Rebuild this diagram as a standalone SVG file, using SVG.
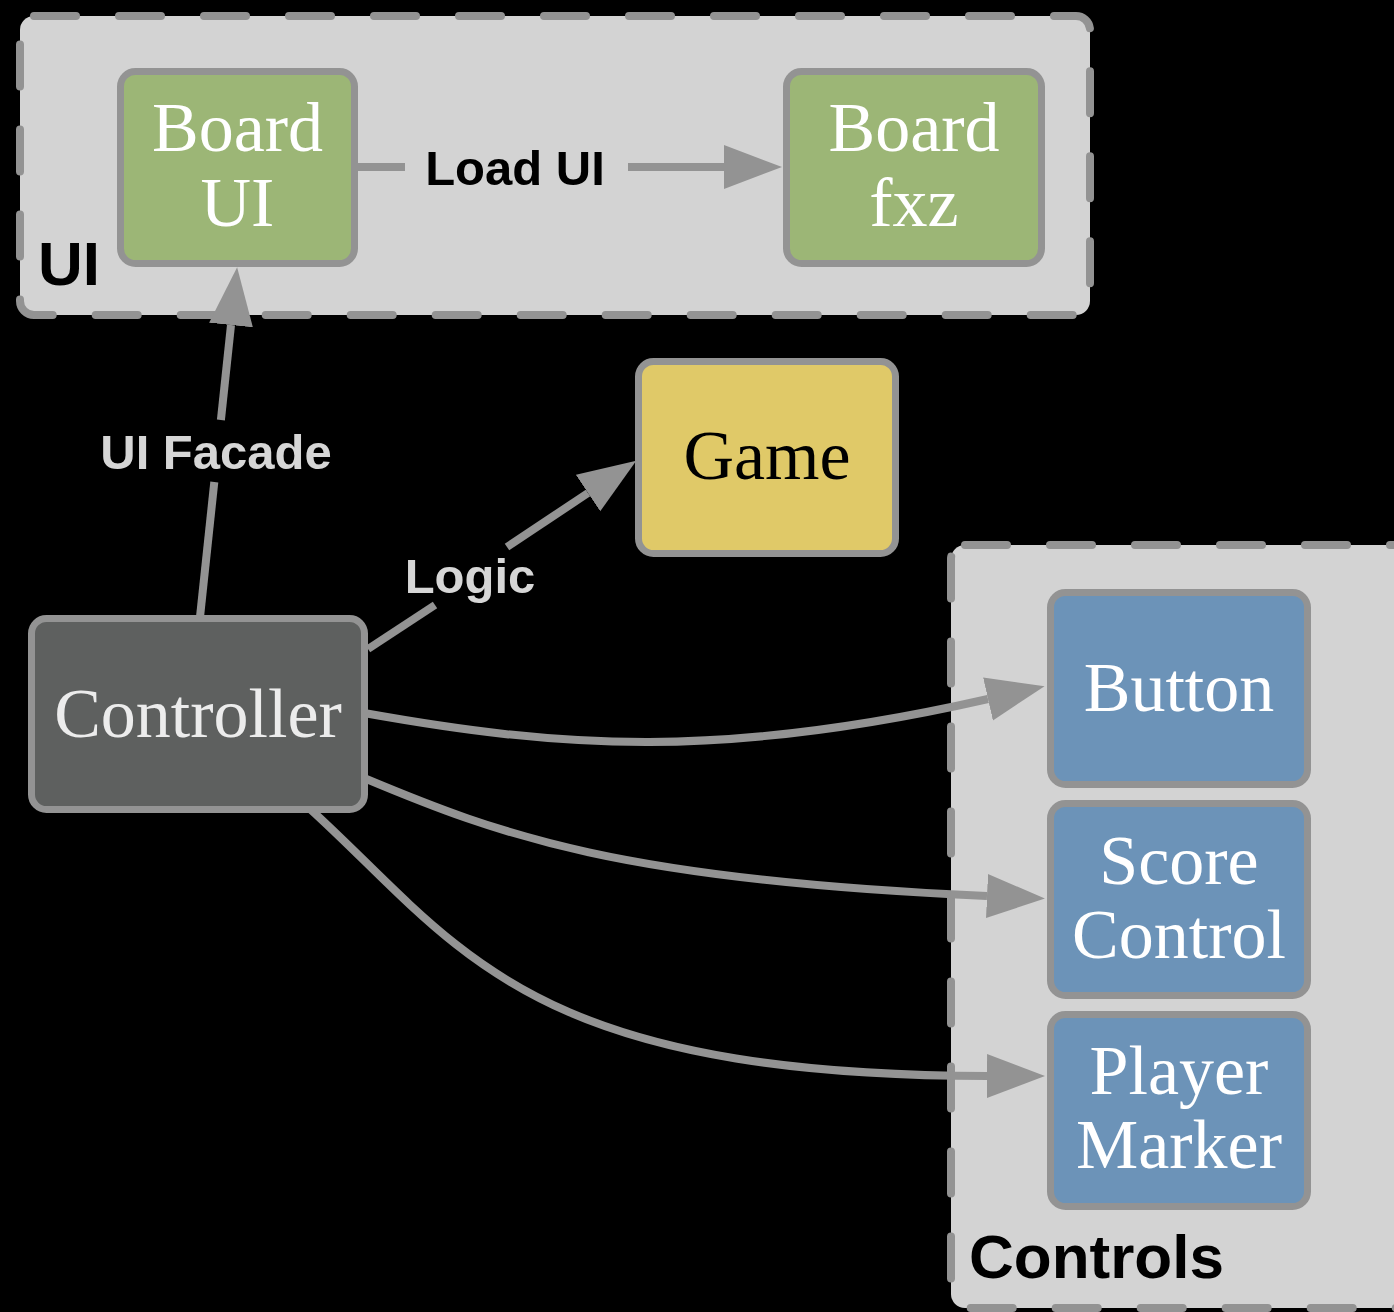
<svg xmlns="http://www.w3.org/2000/svg" width="1394" height="1312" viewBox="0 0 1394 1312">
  <defs>
    <style>
      .group { fill: #d3d3d3; stroke: #939393; stroke-width: 8; stroke-dasharray: 42 43; stroke-linecap: round; }
      .group-label { font-family: "Liberation Sans", Arial, sans-serif; font-weight: bold; font-size: 62px; fill: #000; }
      .node rect { stroke: #939393; stroke-width: 7; }
      .node text { font-family: "Liberation Serif", "Times New Roman", serif; font-size: 70px; text-anchor: middle; }
      .green rect { fill: #9cb676; }
      .green text { fill: #ffffff; }
      .blue rect { fill: #6c93b8; }
      .blue text { fill: #ffffff; }
      .yellow rect { fill: #e0c968; }
      .yellow text { fill: #000000; }
      .dark rect { fill: #5e605f; }
      .dark text { fill: #ececec; }
      .edge { fill: none; stroke: #939393; stroke-width: 8; }
      .edge-label { font-family: "Liberation Sans", Arial, sans-serif; font-weight: bold; font-size: 49px; text-anchor: middle; }
    </style>
    <marker id="arrow" markerUnits="userSpaceOnUse" markerWidth="60" markerHeight="46" viewBox="0 -23 60 46" refX="0" refY="0" orient="auto">
      <path d="M0,-22 L58,0 L0,22 Z" fill="#939393"/>
    </marker>
  </defs>

  <rect width="1394" height="1312" fill="#000"/>

  <!-- clusters -->
  <g id="cluster-ui">
    <rect class="group" x="20" y="16" width="1070" height="299" rx="14"/>
    <text class="group-label" x="38" y="285">UI</text>
  </g>
  <g id="cluster-controls">
    <rect class="group" x="951" y="545" width="470" height="763" rx="14"/>
    <text class="group-label" x="969" y="1278">Controls</text>
  </g>

  <!-- connectors -->
  <g id="connectors">
    <!-- Board UI -> Board fxz -->
    <path class="edge" d="M358,167 L405,167"/>
    <path class="edge" d="M628,167 L724,167" marker-end="url(#arrow)"/>
    <text class="edge-label" x="515" y="185" fill="#000">Load UI</text>

    <!-- Controller -> Board UI -->
    <path class="edge" d="M200,617 L214.3,482"/>
    <path class="edge" d="M220.9,420 L231,325" marker-end="url(#arrow)"/>
    <text class="edge-label" x="216" y="469" fill="#d6d6d6">UI Facade</text>

    <!-- Controller -> Game -->
    <path class="edge" d="M368,649 L435,605"/>
    <path class="edge" d="M507,547 L588,493" marker-end="url(#arrow)"/>
    <text class="edge-label" x="470" y="593" fill="#d6d6d6">Logic</text>

    <!-- Controller -> Button -->
    <path class="edge" d="M364,713 C560,748 720,760 988,699" marker-end="url(#arrow)"/>
    <!-- Controller -> Score Control -->
    <path class="edge" d="M364,778 C500,835 620,880 987,896" marker-end="url(#arrow)"/>
    <!-- Controller -> Player Marker -->
    <path class="edge" d="M309,808 C460,945 520,1075 987,1076" marker-end="url(#arrow)"/>
  </g>

  <!-- nodes -->
  <g id="node-board-ui" class="node green">
    <rect x="120.5" y="71.5" width="234" height="192" rx="15"/>
    <text x="237.5" y="151">Board</text>
    <text x="237.5" y="226">UI</text>
  </g>
  <g id="node-board-fxz" class="node green">
    <rect x="786.5" y="71.5" width="255" height="192" rx="15"/>
    <text x="914" y="151">Board</text>
    <text x="914" y="226">fxz</text>
  </g>
  <g id="node-game" class="node yellow">
    <rect x="638.5" y="361.5" width="257" height="192" rx="15"/>
    <text x="767" y="479">Game</text>
  </g>
  <g id="node-controller" class="node dark">
    <rect x="31.5" y="618.5" width="333" height="191" rx="15"/>
    <text x="198" y="737">Controller</text>
  </g>
  <g id="node-button" class="node blue">
    <rect x="1050.5" y="592.5" width="257" height="192" rx="15"/>
    <text x="1179" y="711">Button</text>
  </g>
  <g id="node-score-control" class="node blue">
    <rect x="1050.5" y="803.5" width="257" height="192" rx="15"/>
    <text x="1179" y="884">Score</text>
    <text x="1179" y="958">Control</text>
  </g>
  <g id="node-player-marker" class="node blue">
    <rect x="1050.5" y="1014.5" width="257" height="192" rx="15"/>
    <text x="1179" y="1094">Player</text>
    <text x="1179" y="1168">Marker</text>
  </g>
</svg>
